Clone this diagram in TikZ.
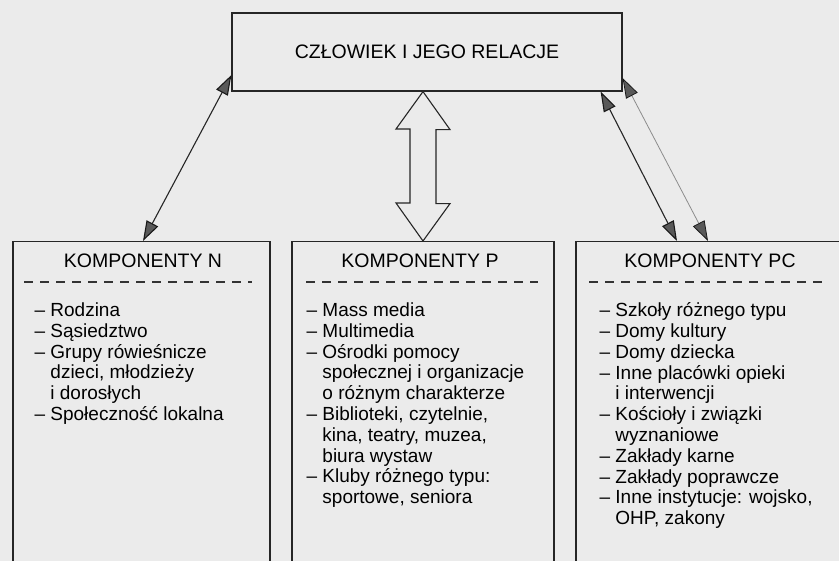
\documentclass[tikz,border=0pt]{standalone}
\usepackage{fontspec}
\setmainfont{Liberation Sans}
\usetikzlibrary{arrows.meta,calc}

\begin{document}
\begin{tikzpicture}[x=1pt,y=-1pt,
  box/.style={draw=black!85,line width=1.2pt,inner sep=0pt},
  ttl/.style={font=\fontsize{19.5}{21}\selectfont,inner sep=0pt,anchor=base},
  lst/.style={font=\fontsize{19}{20.8}\selectfont,inner sep=0pt,anchor=north west,align=left},
  sep/.style={draw=black!80,line width=1.3pt,dash pattern=on 9pt off 7pt},
  >={Triangle[length=20pt,width=13pt,color=black!90,fill=black!65]}]
\useasboundingbox (0,0) rectangle (839,561);
\clip (0,0) rectangle (839,561);
\fill[black!8] (0,0) rectangle (839,561);
% top box
\node[box,minimum width=390pt,minimum height=78pt,font=\fontsize{19.5}{21}\selectfont] (czl) at (427,52) {CZŁOWIEK I JEGO RELACJE};
% three boxes (open at the bottom of the page)
\node[box,minimum width=257pt,minimum height=360pt,anchor=north] (kn) at (141.5,241) {};
\node[box,minimum width=262pt,minimum height=360pt,anchor=north] (kp) at (423,241) {};
\node[box,minimum width=268pt,minimum height=360pt,anchor=north] (kpc) at (710,241) {};
\node[ttl] (tn) at ($(kn.north)+(1.5,26.5)$) {KOMPONENTY N};
\node[ttl] (tp) at ($(kp.north)+(-3,26.5)$) {KOMPONENTY P};
\node[ttl] (tpc) at ($(kpc.north)+(0,26.5)$) {KOMPONENTY PC};
\draw[sep] ($(kn.north west)+(12,41)$) -- ($(kn.north east)+(-19,41)$);
\draw[sep] ($(kp.north west)+(15,41)$) -- ($(kp.north east)+(-17,41)$);
\draw[sep] ($(kpc.north west)+(14,41)$) -- ($(kpc.north east)+(-19,41)$);
% lists
\node[lst] (ln) at ($(kn.north west)+(22,61.5)$) {– Rodzina\\– Sąsiedztwo\\– Grupy rówieśnicze\\\hphantom{– }dzieci, młodzieży\\\hphantom{– }i dorosłych\\– Społeczność lokalna};
\node[lst] (lp) at ($(kp.north west)+(15,61.5)$) {– Mass media\\– Multimedia\\– Ośrodki pomocy\\\hphantom{– }społecznej i organizacje\\\hphantom{– }o różnym charakterze\\– Biblioteki, czytelnie,\\\hphantom{– }kina, teatry, muzea,\\\hphantom{– }biura wystaw\\– Kluby różnego typu:\\\hphantom{– }sportowe, seniora};
\node[lst] (lpc) at ($(kpc.north west)+(24,61.5)$) {– Szkoły różnego typu\\– Domy kultury\\– Domy dziecka\\– Inne placówki opieki\\\hphantom{– }i interwencji\\– Kościoły i związki\\\hphantom{– }wyznaniowe\\– Zakłady karne\\– Zakłady poprawcze\\– Inne instytucje: wojsko,\\\hphantom{– }OHP, zakony};
% relations
\draw[<->,line width=1.1pt,black!85] ([yshift=-23pt]czl.west) -- ([xshift=1.5pt]kn.north);
\draw[<->,line width=1.1pt,black!85] ([xshift=-22pt]czl.south east) -- ([xshift=-33pt]kpc.north);
\draw[<->,line width=0.8pt,black!45] ([yshift=-26pt]czl.east) -- ([xshift=-2pt]kpc.north);
\draw[black!85,line width=1.1pt,fill=black!8] (kp.north |- czl.south) -- ++(27,38) -- ++(-14,0) -- ++(0,74) -- ++(14,0)
  -- (kp.north) -- ++(-27,-38) -- ++(14,0) -- ++(0,-74) -- ++(-14,0) -- cycle;
\end{tikzpicture}
\end{document}
